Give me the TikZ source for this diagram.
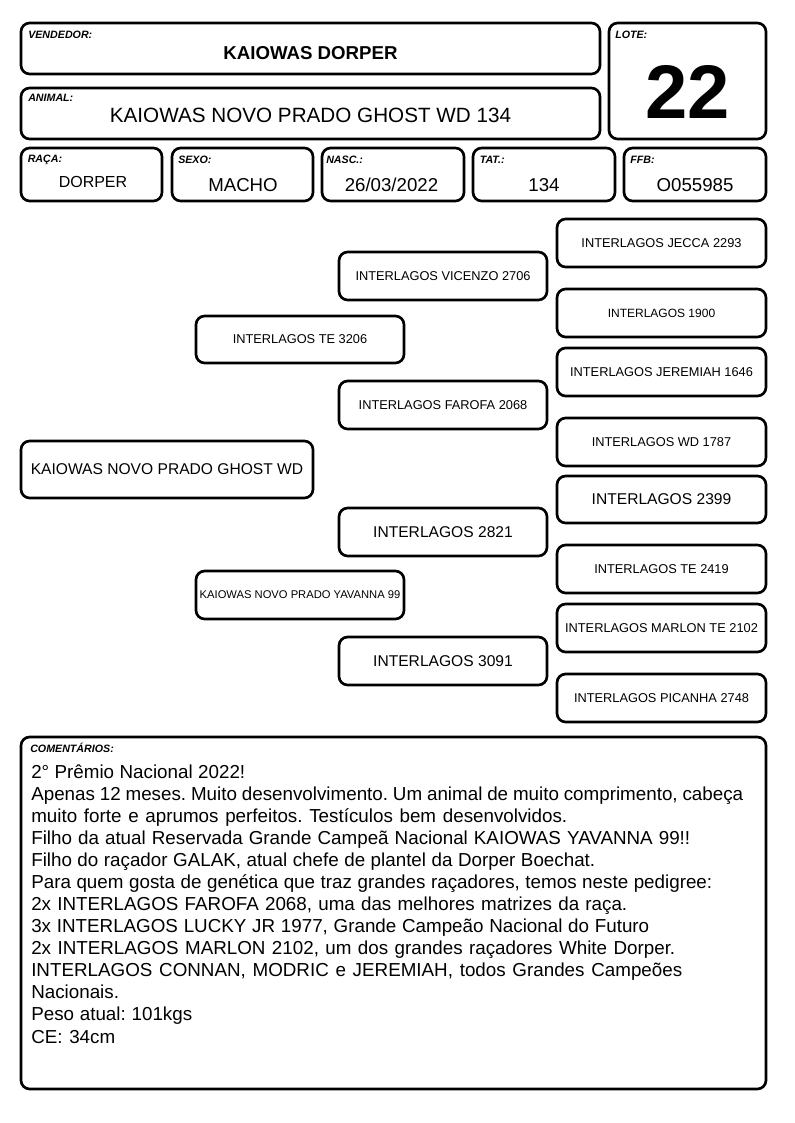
\documentclass[tikz,border=0pt]{standalone}
\usepackage{fontspec}
\setmainfont{Liberation Sans}
\usetikzlibrary{fit}
\frenchspacing
\newcommand{\comline}[2]{\makebox[\dimexpr #1pt*3/4\relax][s]{#2}}
\begin{document}
\begin{tikzpicture}[x=0.75pt,y=-0.75pt,
  box/.style={draw=black, line width=2pt, rounded corners=6.5pt, inner sep=0pt, outer sep=0pt, fill=white},
  sz/.style 2 args={minimum width=#1*0.75pt, minimum height=#2*0.75pt},
  lbl/.style={anchor=base west, inner sep=0pt, font=\fontsize{8}{9.6}\selectfont\bfseries\itshape},
  val/.style={anchor=base, inner sep=0pt, font=\fontsize{14}{16}\selectfont},
  ped/.style={font=\fontsize{9.6}{11}\selectfont},
  pedl/.style={font=\fontsize{11.7}{14}\selectfont},
  ctext/.style={anchor=base west, inner sep=0pt, font=\fontsize{14.1}{16.5}\selectfont}]
\useasboundingbox (0,0) rectangle (794,1123);
% header boxes
\node[box, fit={(21,23) (600,74)}] (vend) {};
\node[box, fit={(21,88) (600,139)}] (anim) {};
\node[box, fit={(609,23) (766,139)}] (lote) {};
\node[box, fit={(21,148) (162,201)}] (raca) {};
\node[box, fit={(172,148) (313,201)}] (sexo) {};
\node[box, fit={(322,148) (464,201)}] (nasc) {};
\node[box, fit={(473,148) (615,201)}] (tat) {};
\node[box, fit={(624,148) (766,201)}] (ffb) {};
% labels
\node[lbl] (lvend) at (28,39) {VENDEDOR:};
\node[lbl] (lanim) at (28,102) {ANIMAL:};
\node[lbl] (llote) at (615,39) {LOTE:};
\node[lbl] (lraca) at (27.5,163) {RAÇA:};
\node[lbl] (lsexo) at (178,163.5) {SEXO:};
\node[lbl] (lnasc) at (326,163.5) {NASC.:};
\node[lbl] (ltat) at (479.5,164) {TAT.:};
\node[lbl] (lffb) at (630,164) {FFB:};
% values
\node[val, font=\fontsize{14}{16}\selectfont\bfseries] (vvend) at (310.5,60) {KAIOWAS DORPER};
\node[val, font=\fontsize{15.5}{18}\selectfont] (vanim) at (310.5,123) {KAIOWAS NOVO PRADO GHOST WD 134};
\node[val, font=\fontsize{57}{60}\selectfont\bfseries] (vlote) at (687.5,119) {22};
\node[val, font=\fontsize{12}{14}\selectfont] (vraca) at (93,188) {DORPER};
\node[val] (vsexo) at (243,192) {MACHO};
\node[val] (vnasc) at (391.5,192) {26/03/2022};
\node[val] (vtat) at (544,192) {134};
\node[val] (vffb) at (695,192) {O055985};
% pedigree
\node[box, pedl, sz={292}{57}] (main) at (167,469.5) {KAIOWAS NOVO PRADO GHOST WD};
\node[box, ped, sz={208}{47}] (sire) at (300,339.5) {INTERLAGOS TE 3206};
\node[box, font=\fontsize{8.4}{10}\selectfont, sz={208}{48}] (dam) at (300,595) {KAIOWAS NOVO PRADO YAVANNA 99};
\node[box, ped, sz={208}{48}] (ss) at (443,276) {INTERLAGOS VICENZO 2706};
\node[box, ped, sz={208}{48}] (sd) at (443,405) {INTERLAGOS FAROFA 2068};
\node[box, pedl, sz={208}{48}] (ds) at (443,532) {INTERLAGOS 2821};
\node[box, pedl, sz={208}{48}] (dd) at (443,661) {INTERLAGOS 3091};
\node[box, ped, sz={209}{48}] (g1) at (661.5,243) {INTERLAGOS JECCA 2293};
\node[box, font=\fontsize{9}{11}\selectfont, sz={209}{48}] (g2) at (661.5,313) {INTERLAGOS 1900};
\node[box, ped, sz={209}{48}] (g3) at (661.5,372) {INTERLAGOS JEREMIAH 1646};
\node[box, ped, sz={209}{48}] (g4) at (661.5,442) {INTERLAGOS WD 1787};
\node[box, pedl, sz={209}{47}] (g5) at (661.5,499.5) {INTERLAGOS 2399};
\node[box, ped, sz={209}{48}] (g6) at (661.5,569) {INTERLAGOS TE 2419};
\node[box, ped, sz={209}{48}] (g7) at (661.5,628) {INTERLAGOS MARLON TE 2102};
\node[box, ped, sz={209}{48}] (g8) at (661.5,698) {INTERLAGOS PICANHA 2748};
% comments
\node[box, fit={(21,737) (766,1089)}] (com) {};
\node[lbl] (lcom) at (30,752.5) {COMENTÁRIOS:};
\node[ctext] (c1) at (31,778) {\comline{214}{2° Prêmio Nacional 2022!}};
\node[ctext] (c2) at (31,800.1) {\comline{712}{Apenas 12 meses. Muito desenvolvimento. Um animal de muito comprimento, cabeça}};
\node[ctext] (c3) at (31,822.2) {\comline{536}{muito forte e aprumos perfeitos. Testículos bem desenvolvidos.}};
\node[ctext] (c4) at (31,844.2) {\comline{659}{Filho da atual Reservada Grande Campeã Nacional KAIOWAS YAVANNA 99!!}};
\node[ctext] (c5) at (31,866.3) {\comline{564}{Filho do raçador GALAK, atual chefe de plantel da Dorper Boechat.}};
\node[ctext] (c6) at (31,888.4) {\comline{681}{Para quem gosta de genética que traz grandes raçadores, temos neste pedigree:}};
\node[ctext] (c7) at (31,910.5) {\comline{596}{2x INTERLAGOS FAROFA 2068, uma das melhores matrizes da raça.}};
\node[ctext] (c8) at (31,932.6) {\comline{618}{3x INTERLAGOS LUCKY JR 1977, Grande Campeão Nacional do Futuro}};
\node[ctext] (c9) at (31,954.6) {\comline{644}{2x INTERLAGOS MARLON 2102, um dos grandes raçadores White Dorper.}};
\node[ctext] (c10) at (31,976.7) {\comline{651}{INTERLAGOS CONNAN, MODRIC e JEREMIAH, todos Grandes Campeões}};
\node[ctext] (c11) at (31,998.8) {Nacionais.};
\node[ctext] (c12) at (31,1020.9) {\comline{161}{Peso atual: 101kgs}};
\node[ctext] (c13) at (31,1043) {\comline{84}{CE: 34cm}};
\end{tikzpicture}
\end{document}
